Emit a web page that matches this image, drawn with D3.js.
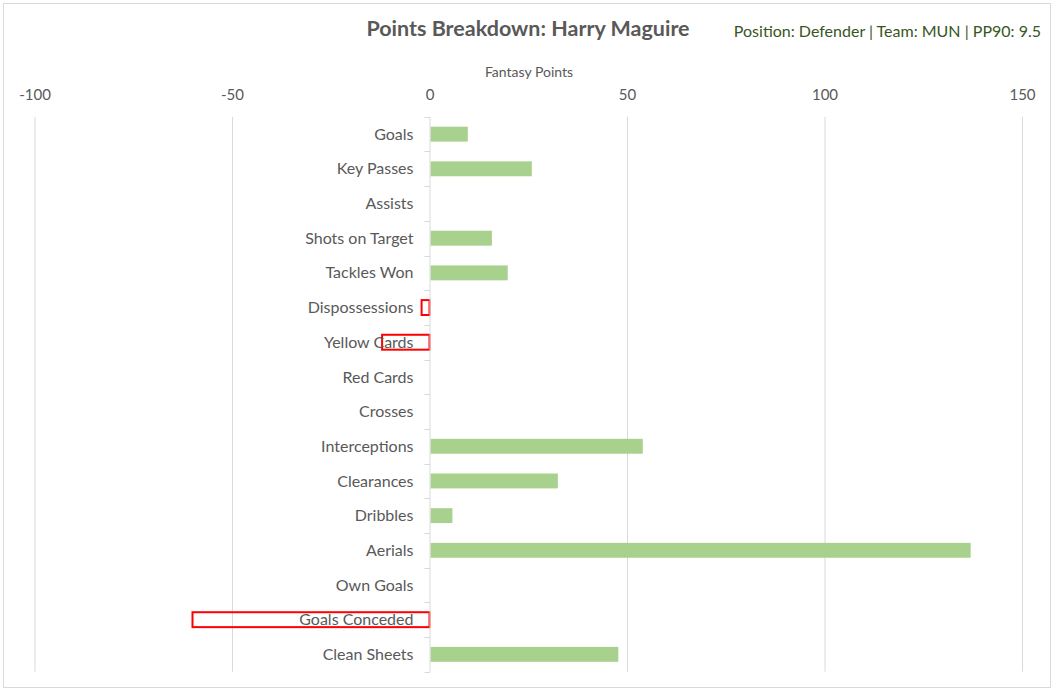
<!DOCTYPE html>
<html>
<head>
<meta charset="utf-8">
<script src="https://cdn.jsdelivr.net/npm/d3@7"></script>
<style>
  body { margin: 0; background: #fff; }
  svg text { font-family: Lato, "Open Sans", sans-serif; fill: #595959; }
</style>
</head>
<body>
<div id="graf"></div>
<script>
// datos
const categorias = ['Goals', 'Key Passes', 'Assists', 'Shots on Target', 'Tackles Won',
  'Dispossessions', 'Yellow Cards', 'Red Cards', 'Crosses', 'Interceptions',
  'Clearances', 'Dribbles', 'Aerials', 'Own Goals', 'Goals Conceded', 'Clean Sheets']
const puntos = [9.7, 25.9, 0, 15.8, 19.8, -2, -12, 0, 0, 54, 32.5, 5.8, 137, 0, -60, 47.8]
const ticksX = [-100, -50, 0, 50, 100, 150]

const titulo = 'Points Breakdown: Harry Maguire'
const subtitulo = 'Position: Defender | Team: MUN | PP90: 9.5'
const tituloEje = 'Fantasy Points'

// configuracion
const ancho_total = 1057, alto_total = 691
const svg = d3.select('#graf').append('svg')
  .attr('width', ancho_total)
  .attr('height', alto_total)

// marco del grafico
svg.append('rect')
  .attr('x', 3.5).attr('y', 3.5)
  .attr('width', 1047).attr('height', 684)
  .attr('fill', '#fff')
  .attr('stroke', '#d9d9d9')

const x = d3.scaleLinear()
  .domain([-100, 150])
  .range([34.5, 1022])

const y = d3.scaleBand()
  .domain(categorias)
  .range([116.8, 671.7])
  .paddingInner(0.57)
  .paddingOuter(0.285)

const arriba = 116.8, abajo = 671.7

// lineas de la rejilla
svg.append('g')
  .selectAll('line')
  .data(ticksX.filter(d => d != 0))
  .join('line')
    .attr('x1', d => x(d) + 0.5).attr('x2', d => x(d) + 0.5)
    .attr('y1', arriba).attr('y2', abajo)
    .attr('stroke', '#d9d9d9')

// etiquetas del eje x (arriba), con guion normal como en excel
const ejeX = d3.axisTop(x).tickValues(ticksX).tickSize(0).tickPadding(0)
  .tickFormat(d => String(d))
const gx = svg.append('g')
  .attr('transform', 'translate(0, 100)')
  .call(ejeX)
gx.select('.domain').remove()
gx.selectAll('text')
  .style('font-size', '15px')
  .attr('fill', '#595959')

svg.append('text')
  .attr('x', 529).attr('y', 77)
  .attr('text-anchor', 'middle')
  .style('font-size', '14px')
  .text(tituloEje)

// barras
svg.append('g')
  .selectAll('rect')
  .data(puntos.map((v, i) => ({ cat: categorias[i], v })).filter(d => d.v != 0))
  .join('rect')
    .attr('x', d => d.v >= 0 ? x(0) + 1 : x(d.v))
    .attr('y', d => y(d.cat))
    .attr('width', d => Math.abs(x(d.v) - x(0)) - (d.v >= 0 ? 1 : 0))
    .attr('height', y.bandwidth())
    .attr('fill', d => d.v >= 0 ? '#a9d18e' : 'none')
    .attr('stroke', d => d.v >= 0 ? 'none' : '#ff0000')
    .attr('stroke-width', d => d.v >= 0 ? 0 : 2)

// eje y (linea en cero con marcas entre categorias)
const paso = y.step()
const limites = categorias.map(c => y(c) - paso * y.paddingInner() / 2)
limites.push(limites[limites.length - 1] + paso)
const gy = svg.append('g')
gy.append('line')
  .attr('x1', x(0) + 0.5).attr('x2', x(0) + 0.5)
  .attr('y1', arriba).attr('y2', abajo)
  .attr('stroke', '#d9d9d9')
gy.selectAll('line.marca')
  .data(limites)
  .join('line')
    .attr('class', 'marca')
    .attr('x1', x(0) - 5).attr('x2', x(0) + 0.5)
    .attr('y1', d => Math.round(d) + 0.5).attr('y2', d => Math.round(d) + 0.5)
    .attr('stroke', '#d9d9d9')

// etiquetas de categorias
svg.append('g')
  .selectAll('text')
  .data(categorias)
  .join('text')
    .attr('x', x(0) - 16)
    .attr('y', d => y(d) + y.bandwidth() / 2)
    .attr('dy', '0.35em')
    .attr('text-anchor', 'end')
    .style('font-size', '16px')
    .text(d => d)

// titulos
svg.append('text')
  .attr('x', 528).attr('y', 36)
  .attr('text-anchor', 'middle')
  .style('font-size', '21.5px')
  .style('font-weight', 'bold')
  .text(titulo)

svg.append('text')
  .attr('x', 1041).attr('y', 37)
  .attr('text-anchor', 'end')
  .style('font-size', '16px')
  .style('fill', '#375623')
  .text(subtitulo)
</script>
</body>
</html>
